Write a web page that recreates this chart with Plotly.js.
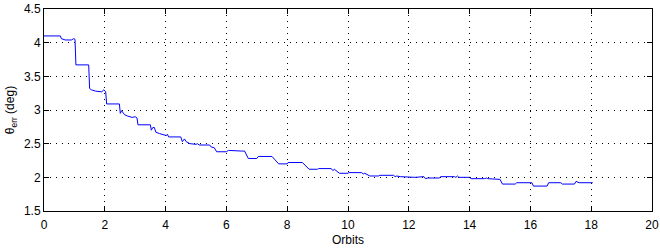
<!DOCTYPE html>
<html>
<head>
<meta charset="utf-8">
<script src="https://cdn.plot.ly/plotly-3.0.1.min.js"></script>
<style>html,body{margin:0;padding:0;background:#fff;}#chart{width:660px;height:251px;}</style>
</head>
<body>
<div id="chart"></div>
<script>
// Orbit number (x) and attitude error theta_err in degrees (y)
const orbits = [0, 0.54, 0.57, 0.7, 0.9, 0.98, 1.02, 1.05, 1.47, 1.5, 1.56, 1.7, 1.9, 1.97, 2.03, 2.06, 2.48, 2.51, 2.55, 2.6, 2.65, 2.75, 2.9, 3.0, 3.06, 3.09, 3.5, 3.53, 3.58, 3.63, 3.68, 3.8, 3.95, 4.03, 4.06, 4.1, 4.5, 4.55, 4.62, 4.68, 4.8, 5.0, 5.05, 5.1, 5.45, 5.5, 5.6, 5.68, 6.0, 6.07, 6.5, 6.6, 6.72, 7.0, 7.05, 7.5, 7.6, 7.72, 8.0, 8.03, 8.5, 8.6, 8.72, 9.0, 9.03, 9.45, 9.5, 9.55, 9.72, 10.0, 10.03, 10.45, 10.5, 10.55, 10.72, 11.0, 11.05, 11.5, 11.55, 11.6, 11.72, 12.2, 12.5, 12.55, 12.62, 13.0, 13.05, 13.5, 13.55, 13.6, 13.65, 14.0, 14.05, 14.5, 14.55, 14.6, 15.0, 15.08, 15.5, 15.55, 16.05, 16.1, 16.55, 16.6, 17.0, 17.05, 17.45, 17.5, 17.6, 18.05];
const thetaErr = [4.10, 4.10, 4.06, 4.04, 4.04, 4.06, 4.05, 3.67, 3.67, 3.32, 3.30, 3.28, 3.27, 3.30, 3.27, 3.09, 3.09, 2.95, 2.99, 2.96, 2.93, 2.91, 2.89, 2.90, 2.88, 2.78, 2.78, 2.70, 2.74, 2.74, 2.67, 2.65, 2.63, 2.62, 2.64, 2.60, 2.60, 2.53, 2.57, 2.53, 2.50, 2.49, 2.50, 2.48, 2.48, 2.45, 2.44, 2.38, 2.38, 2.40, 2.39, 2.39, 2.28, 2.28, 2.31, 2.31, 2.26, 2.20, 2.20, 2.22, 2.22, 2.18, 2.12, 2.12, 2.13, 2.13, 2.10, 2.12, 2.06, 2.06, 2.07, 2.07, 2.05, 2.06, 2.02, 2.02, 2.03, 2.03, 2.01, 2.02, 2.01, 2.00, 2.01, 1.98, 1.99, 1.99, 2.01, 2.01, 2.00, 2.02, 2.00, 2.00, 1.98, 1.98, 1.99, 1.98, 1.97, 1.90, 1.90, 1.92, 1.92, 1.87, 1.87, 1.92, 1.92, 1.90, 1.90, 1.94, 1.92, 1.92];
const xTicks = [0, 2, 4, 6, 8, 10, 12, 14, 16, 18, 20];
const yTicks = [1.5, 2, 2.5, 3, 3.5, 4, 4.5];

const font = {family: 'Liberation Sans, Arial, sans-serif', size: 12, color: '#000'};
const axisCommon = {
  showline: true, mirror: 'ticks', linecolor: '#000', linewidth: 1,
  ticks: 'inside', ticklen: 5, tickcolor: '#000', tickwidth: 1,
  showgrid: true, gridcolor: '#000', gridwidth: 1, griddash: '1px,5px',
  zeroline: false, tickfont: font
};
Plotly.newPlot('chart', [{
  x: orbits, y: thetaErr, type: 'scatter', mode: 'lines',
  line: {color: '#0000ff', width: 1}
}], {
  width: 660, height: 251,
  margin: {l: 44, r: 8, t: 9, b: 40},
  paper_bgcolor: '#fff', plot_bgcolor: '#fff',
  showlegend: false, font: font,
  xaxis: Object.assign({}, axisCommon, {range: [0, 20], tickvals: xTicks, ticktext: xTicks.map(String),
    ticklabelstandoff: 3,
    title: {text: 'Orbits', font: {family: font.family, size: 12}, standoff: 4}}),
  yaxis: Object.assign({}, axisCommon, {range: [1.5, 4.5], tickvals: yTicks, ticktext: yTicks.map(String),
    title: {text: 'θ<sub>err</sub> (deg)', font: {family: font.family, size: 12}, standoff: 6}})
}, {displayModeBar: false, staticPlot: true});
</script>
</body>
</html>
